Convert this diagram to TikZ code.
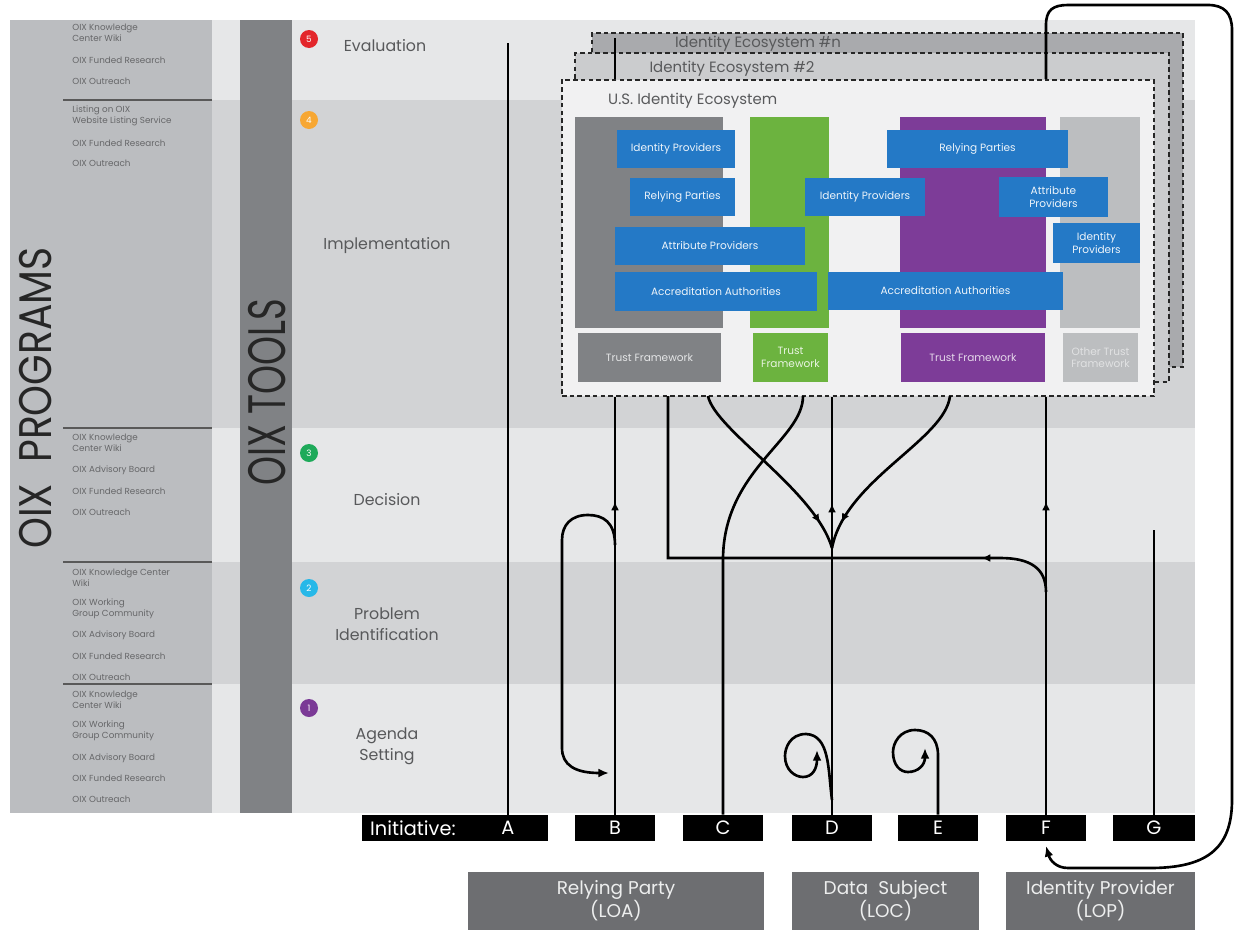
\documentclass[tikz,border=0pt]{standalone}
\usepackage{fontspec}
\setmainfont{Poppins}
\usetikzlibrary{arrows.meta,decorations.markings}
\definecolor{bandlt}{HTML}{E6E7E8}
\definecolor{banddk}{HTML}{D2D3D5}
\definecolor{progcol}{HTML}{BBBDC0}
\definecolor{toolscol}{HTML}{808285}
\definecolor{ecoN}{HTML}{A9AAAD}
\definecolor{ecoTwo}{HTML}{CBCCCE}
\definecolor{ecoFront}{HTML}{F1F1F2}
\definecolor{colgray}{HTML}{808285}
\definecolor{colgreen}{HTML}{6CB33F}
\definecolor{colpurple}{HTML}{7D3C98}
\definecolor{colltgray}{HTML}{BCBEC0}
\definecolor{bluebx}{HTML}{2479C6}
\definecolor{bottombx}{HTML}{6D6E71}
\definecolor{txtgray}{HTML}{58595B}
\definecolor{progtxt}{HTML}{666769}
\definecolor{cred}{HTML}{E3262B}
\definecolor{corange}{HTML}{F7A733}
\definecolor{cgreen}{HTML}{1EAA5A}
\definecolor{ccyan}{HTML}{27B8E8}
\definecolor{cpurple}{HTML}{7B3A96}
\begin{document}
\begin{tikzpicture}[x=0.02cm,y=-0.02cm,
  sz/.style 2 args={minimum width=#1*0.02cm,minimum height=#2*0.02cm,inner sep=0pt},
  bluebox/.style={fill=bluebx,text=white!92!bluebx,font=\fontsize{6}{7}\selectfont,align=center},
  colbox/.style={inner sep=0pt},
  tfbox/.style={font=\fontsize{6}{7}\selectfont,align=center,inner sep=0pt},
  ecobox/.style={draw=black!85,line width=1.3pt,dash pattern=on 2.6pt off 1.8pt,inner sep=0pt},
  ecotitle/.style={font=\fontsize{8.5}{10}\selectfont,text=txtgray},
  initbox/.style={fill=black,inner sep=0pt},
  initlab/.style={text=white,font=\fontsize{11}{12}\selectfont},
  botbox/.style={fill=bottombx,text=white!88!bottombx,font=\fontsize{10.5}{13}\selectfont,align=center,inner sep=0pt},
  stagelab/.style={text=txtgray,font=\fontsize{9}{12}\selectfont,align=center},
  stagedot/.style={circle,minimum size=18*0.02cm,inner sep=0pt,text=white,font=\fontsize{5}{5}\selectfont},
  progitem/.style={anchor=west,text=progtxt,font=\fontsize{5}{6.2}\selectfont,align=left,inner sep=0pt},
  sepline/.style={draw=black!65,line width=1.1pt},
  conn/.style={draw=black,line width=1.5pt},
  tip/.style={-{Latex[length=6pt,width=5pt]}},
  midarrow/.style={postaction={decorate,decoration={markings,mark=at position #1 with {\arrow{Latex[length=5pt,width=4.5pt]}}}}}
]
\useasboundingbox (0,0) rectangle (1238,930);
\fill[white] (0,0) rectangle (1238,930);

% stage bands
\fill[bandlt] (212,20) rectangle (1195,100);
\fill[banddk] (212,100) rectangle (1195,428);
\fill[bandlt] (212,428) rectangle (1195,562);
\fill[banddk] (212,562) rectangle (1195,684);
\fill[bandlt] (212,684) rectangle (1195,813);

% programs column
\fill[progcol] (10,20) rectangle (212,813);
\fill[toolscol] (240,20) rectangle (292,813);
\draw[sepline] (63,100) -- (212,100);
\draw[sepline] (63,428) -- (212,428);
\draw[sepline] (63,562) -- (212,562);
\draw[sepline] (63,684) -- (212,684);

\node[rotate=90,font=\fontsize{26}{26}\selectfont,text=black!85] (progtitle) at (36,398) {\scalebox{0.86}[1]{OIX\ \ PROGRAMS}};
\node[rotate=90,font=\fontsize{30}{30}\selectfont,text=black!85] (toolstitle) at (267,392) {\scalebox{0.7}[1]{OIX TOOLS}};

% program items
\node[progitem] (p1a) at (72,33) {OIX Knowledge\\Center Wiki};
\node[progitem] (p1b) at (72,60) {OIX Funded Research};
\node[progitem] (p1c) at (72,81) {OIX Outreach};
\node[progitem] (p2a) at (72,116) {Listing on OIX\\Website Listing Service};
\node[progitem] (p2b) at (72,143) {OIX Funded Research};
\node[progitem] (p2c) at (72,163) {OIX Outreach};
\node[progitem] (p3a) at (72,443) {OIX Knowledge\\Center Wiki};
\node[progitem] (p3b) at (72,470) {OIX Advisory Board};
\node[progitem] (p3c) at (72,491) {OIX Funded Research};
\node[progitem] (p3d) at (72,512) {OIX Outreach};
\node[progitem] (p4a) at (72,578) {OIX Knowledge Center\\Wiki};
\node[progitem] (p4b) at (72,609) {OIX Working\\Group Community};
\node[progitem] (p4c) at (72,635) {OIX Advisory Board};
\node[progitem] (p4d) at (72,656) {OIX Funded Research};
\node[progitem] (p4e) at (72,677) {OIX Outreach};
\node[progitem] (p5a) at (72,700) {OIX Knowledge\\Center Wiki};
\node[progitem] (p5b) at (72,731) {OIX Working\\Group Community};
\node[progitem] (p5c) at (72,758) {OIX Advisory Board};
\node[progitem] (p5d) at (72,778) {OIX Funded Research};
\node[progitem] (p5e) at (72,799) {OIX Outreach};

% stages
\node[stagedot,fill=cred] (s5) at (309,39) {5};
\node[stagedot,fill=corange] (s4) at (309,120) {4};
\node[stagedot,fill=cgreen] (s3) at (309,453) {3};
\node[stagedot,fill=ccyan] (s2) at (309,588) {2};
\node[stagedot,fill=cpurple] (s1) at (309,708) {1};
\node[stagelab] (evaluation) at (385,46) {Evaluation};
\node[stagelab] (implementation) at (387,246) {Implementation};
\node[stagelab] (decision) at (387,500) {Decision};
\node[stagelab] (problem) at (387,624) {Problem\\Identification};
\node[stagelab] (agenda) at (387,746) {Agenda\\Setting};

% ecosystems
\node[ecobox,fill=ecoN,sz={591}{334}] (ecoN) at (887.5,200) {};
\node[ecotitle] (ecoNt) at (758,44) {Identity Ecosystem \#n};
\node[ecobox,fill=ecoTwo,sz={594}{329}] (ecoII) at (872,217.5) {};
\node[ecotitle] (ecoIIt) at (732,69) {Identity Ecosystem \#2};
\node[ecobox,fill=ecoFront,sz={592}{316}] (eco) at (858,238) {};
\node[ecotitle,anchor=west] (ecot) at (602,101) {U.S. Identity Ecosystem};

% columns
\node[colbox,fill=colgray,sz={148}{211}] (cgray) at (649,222.5) {};
\node[colbox,fill=colgreen,sz={79}{211}] (cgreen) at (789.5,222.5) {};
\node[colbox,fill=colpurple,sz={146}{211}] (cpurple) at (973,222.5) {};
\node[colbox,fill=colltgray,sz={80}{211}] (cltgray) at (1100,222.5) {};

\node[tfbox,fill=colgray,text=white!80!colgray,sz={143}{49}] (tfgray) at (649.5,357.5) {Trust Framework};
\node[tfbox,fill=colgreen,text=white!85!colgreen,sz={75}{49}] (tfgreen) at (790.5,357.5) {Trust\\Framework};
\node[tfbox,fill=colpurple,text=white!80!colpurple,sz={144}{49}] (tfpurple) at (973,357.5) {Trust Framework};
\node[tfbox,fill=colltgray,text=white!55!colltgray,sz={75}{49}] (tfother) at (1100.5,357.5) {Other Trust\\Framework};

% blue boxes
\node[bluebox,sz={118}{38}] (ip1) at (676,149) {Identity Providers};
\node[bluebox,sz={105}{38}] (rp1) at (682.5,197) {Relying Parties};
\node[bluebox,sz={190}{38}] (ap1) at (710,246) {Attribute Providers};
\node[bluebox,sz={235}{38}] (aa2) at (945.5,291) {Accreditation Authorities};
\node[bluebox,sz={202}{39}] (aa1) at (716,291.5) {Accreditation Authorities};
\node[bluebox,sz={181}{38}] (rp2) at (977.5,149) {Relying Parties};
\node[bluebox,sz={120}{38}] (ip2) at (865,197) {Identity Providers};
\node[bluebox,sz={109}{40}] (ap2) at (1053.5,197) {Attribute\\Providers};
\node[bluebox,sz={87}{40}] (ip3) at (1096.5,243) {Identity\\Providers};

% initiative boxes
\node[initbox,sz={186}{26}] (iA) at (455,828) {};
\node[initlab,anchor=west] (initlab) at (364,828) {Initiative:};
\node[initlab] (labA) at (508,828) {A};
\node[initbox,initlab,sz={80}{26}] (iB) at (615,828) {B};
\node[initbox,initlab,sz={80}{26}] (iC) at (723,828) {C};
\node[initbox,initlab,sz={80}{26}] (iD) at (832,828) {D};
\node[initbox,initlab,sz={80}{26}] (iE) at (938,828) {E};
\node[initbox,initlab,sz={80}{26}] (iF) at (1046,828) {F};
\node[initbox,initlab,sz={82}{26}] (iG) at (1154,828) {G};

% bottom boxes
\node[botbox,sz={296}{58}] (rp) at (616,901) {Relying Party\\(LOA)};
\node[botbox,sz={187}{58}] (ds) at (885.5,901) {Data\ \ Subject\\(LOC)};
\node[botbox,sz={189}{58}] (idp) at (1100.5,901) {Identity Provider\\(LOP)};

% coordinates
\coordinate (aTop) at (508,43);
\coordinate (bTop) at (615,38);
\coordinate (jn) at (832,548);
\coordinate (gTop) at (1154,530);
\coordinate (cBend) at (723,560);
\coordinate (cTop) at (803,396);
\coordinate (x2s) at (708,396);
\coordinate (x3s) at (950,396);
\coordinate (hStart) at (1046,592);
\coordinate (hEnd) at (668,396);
\coordinate (bLoop) at (615,545);
\coordinate (bLoopEnd) at (609,773);
\coordinate (dCurl) at (832,800);
\coordinate (dCurlEnd) at (817,750);
\coordinate (eCurlEnd) at (925,748);
\coordinate (fEnd) at (1046,846);

% connectors
\draw[conn] (labA |- iA.north) -- (aTop);
\draw[conn,midarrow=0.75] (iB.north) -- (iB.north |- eco.south);
\draw[conn] (iB.north |- eco.north) -- (bTop);
\draw[conn,tip] (bLoop) .. controls (615,522) and (603,515) .. (588,515)
  .. controls (571,515) and (562,525) .. (562,540) -- (562,748)
  .. controls (562,765) and (575,773) .. (bLoopEnd);
\draw[conn] (iC.north) -- (cBend) .. controls (723,470) and (803,440) .. (cTop);
\draw[conn,midarrow=0.86] (x2s) .. controls (715,430) and (815,490) .. (jn);
\draw[conn,midarrow=0.86] (x3s) .. controls (945,440) and (845,480) .. (jn);
\draw[conn,midarrow=0.745] (iD.north) -- (iD.north |- eco.south);
\draw[conn,midarrow=0.15] (hStart) .. controls (1046,568) and (1030,558) .. (1000,558) -- (668,558) -- (hEnd);
\draw[conn,midarrow=0.75] (iF.north) -- (iF.north |- eco.south);
\draw[conn,tip] (iF.north |- eco.north) -- (1046,25) .. controls (1046,10) and (1053,5) .. (1068,5)
  -- (1208,5) .. controls (1224,5) and (1232,13) .. (1232,30) -- (1232,800)
  .. controls (1232,850) and (1205,868) .. (1150,868) -- (1068,868)
  .. controls (1056,868) and (1050,860) .. (fEnd);
\draw[conn] (iG.north) -- (gTop);
\draw[conn,tip] (dCurl) .. controls (828,770) and (830,735) .. (806,734)
  .. controls (790,734) and (785,748) .. (785,756)
  .. controls (785,770) and (795,777) .. (803,777)
  .. controls (813,777) and (817,768) .. (dCurlEnd);
\draw[conn,tip] (iE.north) -- (938,755) .. controls (938,738) and (928,730) .. (915,730)
  .. controls (900,730) and (893,743) .. (893,752)
  .. controls (893,765) and (900,772) .. (908,772)
  .. controls (918,772) and (925,765) .. (eCurlEnd);
\end{tikzpicture}
\end{document}
